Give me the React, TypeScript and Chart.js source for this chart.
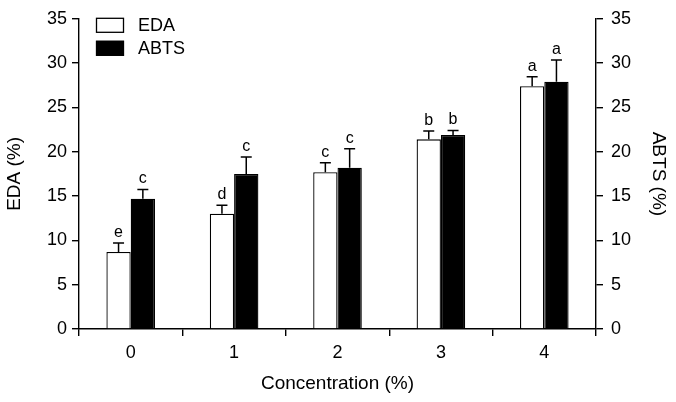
import React, { useEffect, useRef } from 'react';
import { Chart, registerables } from 'chart.js';

Chart.register(...registerables);

const categories = ['0', '1', '2', '3', '4'];
const edaValues = [8.7, 13.0, 17.7, 21.4, 27.4];
const edaErrors = [1.0, 0.95, 1.05, 0.95, 1.05];
const abtsValues = [14.7, 17.5, 18.2, 21.9, 27.9];
const abtsErrors = [1.05, 1.9, 2.15, 0.5, 2.45];
const edaLetters = ['e', 'd', 'c', 'b', 'a'];
const abtsLetters = ['c', 'c', 'c', 'b', 'a'];
const yMin = 0;
const yMax = 35;
const yStep = 5;

const FONT = "'Liberation Sans', Arial, Helvetica, sans-serif";

const errorBarPlugin = {
  id: 'errorBars',
  afterDatasetsDraw(chart: any) {
    const ctx = chart.ctx;
    const errs = [edaErrors, abtsErrors];
    const letters = [edaLetters, abtsLetters];
    chart.data.datasets.forEach((ds: any, i: number) => {
      const meta = chart.getDatasetMeta(i);
      const yScale = chart.scales[meta.yAxisID];
      meta.data.forEach((el: any, j: number) => {
        const v = ds.data[j];
        const top = yScale.getPixelForValue(v + errs[i][j]);
        const x = el.x;
        ctx.save();
        ctx.strokeStyle = '#000';
        ctx.lineWidth = 1.5;
        ctx.beginPath();
        ctx.moveTo(x, el.y);
        ctx.lineTo(x, top);
        ctx.moveTo(x - 5.5, top);
        ctx.lineTo(x + 5.5, top);
        ctx.stroke();
        ctx.fillStyle = '#000';
        ctx.font = `16px ${FONT}`;
        ctx.textAlign = 'center';
        ctx.textBaseline = 'alphabetic';
        ctx.fillText(letters[i][j], x, top - 6);
        ctx.restore();
      });
    });
  },
};

const legendPlugin = {
  id: 'insideLegend',
  afterDraw(chart: any) {
    const ctx = chart.ctx;
    const area = chart.chartArea;
    const x0 = area.left + 17;
    const y0 = area.top - 1;
    chart.data.datasets.forEach((ds: any, i: number) => {
      const y = y0 + i * 23;
      ctx.save();
      ctx.fillStyle = ds.backgroundColor;
      ctx.fillRect(x0, y, 28, 15);
      ctx.strokeStyle = '#000';
      ctx.lineWidth = 1.3;
      ctx.strokeRect(x0 + 0.5, y + 0.5, 27, 14);
      ctx.fillStyle = '#000';
      ctx.font = `18px ${FONT}`;
      ctx.textAlign = 'left';
      ctx.textBaseline = 'middle';
      ctx.fillText(ds.label, x0 + 42, y + 8);
      ctx.restore();
    });
  },
};

export default function App() {
  const ref = useRef<HTMLCanvasElement | null>(null);
  useEffect(() => {
    if (!ref.current) return;
    const axisGrid = {
      drawOnChartArea: false,
      drawTicks: true,
      tickLength: 7,
      color: '#000',
      lineWidth: 1.4,
    };
    const chart = new Chart(ref.current, {
      type: 'bar',
      data: {
        labels: categories,
        datasets: [
          {
            label: 'EDA',
            data: edaValues,
            backgroundColor: '#ffffff',
            borderColor: '#000000',
            borderWidth: 1.3,
            yAxisID: 'y',
            categoryPercentage: 0.47,
            barPercentage: 1.0,
          },
          {
            label: 'ABTS',
            data: abtsValues,
            backgroundColor: '#000000',
            borderColor: '#000000',
            borderWidth: 1.3,
            yAxisID: 'y2',
            categoryPercentage: 0.47,
            barPercentage: 1.0,
          },
        ],
      },
      options: {
        responsive: false,
        animation: false,
        devicePixelRatio: 1,
        layout: { padding: { top: 15, left: 0, right: 0, bottom: 0 } },
        plugins: {
          legend: { display: false },
          tooltip: { enabled: false },
        },
        scales: {
          x: {
            grid: { ...axisGrid, offset: true },
            border: { display: true, color: '#000', width: 1.4 },
            ticks: { color: '#000', font: { size: 18, family: FONT }, padding: 6 },
            title: {
              display: true,
              text: 'Concentration (%)',
              color: '#000',
              font: { size: 19, family: FONT },
              padding: { top: 0, bottom: 7 },
            },
            afterFit: (s: any) => {
              s.height = 73;
            },
          },
          y: {
            position: 'left',
            min: yMin,
            max: yMax,
            grid: axisGrid,
            border: { display: true, color: '#000', width: 1.4 },
            ticks: { stepSize: yStep, color: '#000', font: { size: 18, family: FONT }, padding: 5 },
            title: {
              display: true,
              text: 'EDA (%)',
              color: '#000',
              font: { size: 19, family: FONT },
              padding: { top: 3, bottom: 0 },
            },
            afterFit: (s: any) => {
              s.width = 79;
            },
          },
          y2: {
            position: 'right',
            min: yMin,
            max: yMax,
            grid: axisGrid,
            border: { display: true, color: '#000', width: 1.4 },
            ticks: { stepSize: yStep, color: '#000', font: { size: 18, family: FONT }, padding: 8 },
            title: {
              display: true,
              text: 'ABTS (%)',
              color: '#000',
              font: { size: 19, family: FONT },
              padding: { top: 6, bottom: 0 },
            },
            afterFit: (s: any) => {
              s.width = 80;
            },
          },
        },
      },
      plugins: [errorBarPlugin, legendPlugin],
    } as any);
    return () => chart.destroy();
  }, []);
  return (
    <div style={{ position: 'absolute', left: 0, top: 0, width: 676, height: 402, background: '#fff' }}>
      <canvas ref={ref} width={676} height={402} style={{ display: 'block' }} />
    </div>
  );
}
